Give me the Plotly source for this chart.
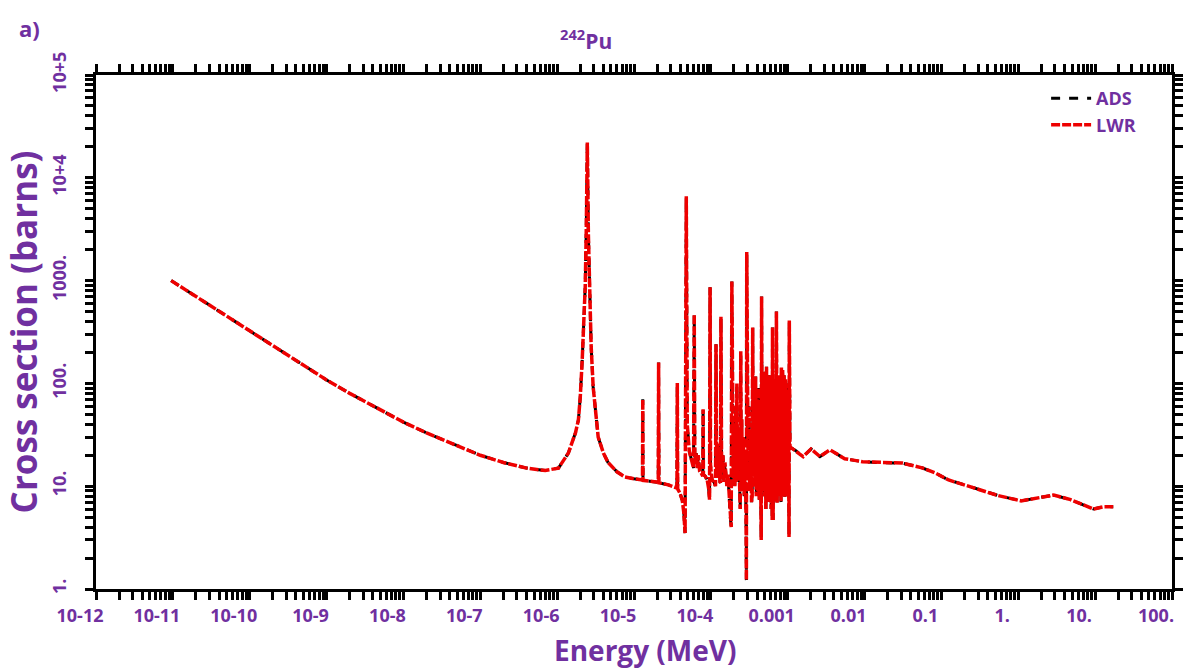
import plotly.graph_objects as go

PURPLE = "#7030A0"

# ---------------- data ----------------
# thermal (1/v) region
thermal_E = [9.5e-12, 2e-11, 5e-11, 1e-10, 2e-10, 5e-10, 1e-9, 2e-9, 5e-9, 1e-8,
             2e-8, 5e-8, 1e-7, 2e-7, 4e-7, 7e-7, 1.04e-6]
thermal_xs = [1000, 700, 450, 325, 232, 150, 108, 80, 55, 42,
              33, 25, 20, 17, 15, 14.2, 15]

# first large resonance
res1_E = [1.40e-6, 1.73e-6, 1.89e-6, 2.0e-6, 2.12e-6, 2.19e-6, 2.25e-6, 2.32e-6, 2.39e-6,
          2.47e-6, 2.55e-6, 2.62e-6, 2.77e-6, 2.94e-6, 3.42e-6, 4.0e-6, 4.6e-6, 6.0e-6,
          7.6e-6, 1.0e-5, 1.29e-5]
res1_xs = [21, 33, 44, 74, 170, 310, 420, 880, 2950,
           22000, 2800, 960, 230, 93, 30, 21, 17, 13.8,
           12.3, 11.8, 11.5]

# resolved resonance forest
forest_E = [1.30e-5, 1.31e-5, 1.6e-5, 2.07e-5, 2.09e-5, 2.11e-5, 2.8e-5, 3.4e-5, 3.62e-5,
            3.66e-5, 3.70e-5, 3.95e-5, 4.25e-5, 4.45e-5, 4.62e-5, 4.79e-5, 4.86e-5, 4.93e-5,
            5.24e-5, 5.73e-5, 5.95e-5, 6.08e-5, 6.18e-5, 6.45e-5, 6.64e-5, 6.84e-5, 7.15e-5,
            7.47e-5, 7.85e-5, 7.93e-5, 8.0e-5, 8.45e-5, 8.97e-5, 9.36e-5, 9.62e-5, 9.77e-5,
            9.9e-5, 1.036e-4, 1.10e-4, 1.15e-4, 1.167e-4, 1.19e-4, 1.22e-4, 1.25e-4, 1.276e-4,
            1.315e-4, 1.335e-4, 1.353e-4, 1.38e-4, 1.436e-4, 1.48e-4, 1.524e-4, 1.617e-4, 1.67e-4,
            1.717e-4, 1.79e-4, 1.84e-4, 1.875e-4, 1.91e-4, 1.96e-4, 1.99e-4, 2.05e-4, 2.11e-4,
            2.15e-4, 2.18e-4, 2.22e-4, 2.27e-4, 2.34e-4, 2.41e-4, 2.45e-4, 2.48e-4, 2.52e-4,
            2.58e-4, 2.64e-4, 2.72e-4, 2.80e-4, 2.87e-4, 2.90e-4, 2.93e-4, 2.97e-4, 3.06e-4,
            3.13e-4, 3.20e-4, 3.30e-4, 3.38e-4, 3.45e-4, 3.50e-4, 3.55e-4, 3.66e-4, 3.74e-4,
            3.82e-4, 3.90e-4, 4.00e-4, 4.09e-4, 4.18e-4, 4.27e-4, 4.37e-4, 4.46e-4, 4.52e-4,
            4.57e-4, 4.64e-4, 4.71e-4, 4.78e-4, 4.89e-4, 4.99e-4, 5.10e-4, 5.20e-4, 5.30e-4,
            5.39e-4, 5.51e-4, 5.62e-4, 5.74e-4, 5.86e-4, 5.97e-4, 6.09e-4, 6.21e-4, 6.28e-4,
            6.34e-4, 6.45e-4, 6.58e-4, 6.72e-4, 6.86e-4, 7.00e-4, 7.13e-4, 7.27e-4, 7.41e-4,
            7.57e-4, 7.72e-4, 7.87e-4, 8.07e-4, 8.17e-4, 8.28e-4, 8.42e-4, 8.59e-4, 8.78e-4,
            8.96e-4, 9.14e-4, 9.34e-4, 9.53e-4, 9.74e-4, 9.94e-4, 1.019e-3, 1.04e-3, 1.049e-3,
            1.07e-3]
forest_xs = [70, 11.4, 11.2, 10.9, 160, 10.8, 10.3, 9.9, 9.6,
             101, 9.4, 8.6, 7.3, 5.5, 3.5, 6600, 80, 40,
             22, 17, 15, 470, 18, 21, 15, 20, 14,
             13.5, 12.5, 56, 13, 12.5, 11.5, 9.5, 7.4, 860,
             16, 11.5, 11, 10, 240, 12, 26, 12, 24,
             11, 10.8, 445, 14, 20, 11, 17, 10, 13,
             8.2, 5, 4.0, 980, 30, 12, 40, 10, 60,
             11, 100, 12, 35, 9, 6, 205, 10, 45,
             9, 30, 8, 20, 5, 1.22, 1900, 40, 12,
             60, 9, 35, 7, 8, 350, 15, 80, 10,
             117, 8, 70, 9, 90, 7.4, 60, 6, 3.0,
             700, 20, 110, 9, 130, 8, 100, 6, 145,
             9, 90, 7, 120, 8, 80, 6, 100, 4.7,
             350, 4.7, 90, 8, 110, 7, 500, 6.9, 100,
             8, 120, 9, 90, 7, 143, 8, 135, 8,
             120, 7.9, 110, 8, 100, 9, 80, 3.2, 410,
             25]

# unresolved / fast region
fast_E = [1.081e-3, 1.29e-3, 1.59e-3, 2.01e-3, 2.63e-3, 3.54e-3, 5.52e-3, 9.4e-3, 1.71e-2,
          3.09e-2, 5.59e-2, 8.22e-2, 0.124, 0.269, 0.549, 1.087, 1.80, 2.89, 4.79, 9.48,
          12.8, 17.2]
fast_xs = [24, 22, 19.4, 23, 19.4, 22.6, 18.5, 17.3, 16.9,
           16.8, 15.1, 13.5, 11.5, 9.6, 8.1, 7.2, 7.7, 8.2, 7.4, 6.0,
           6.3, 6.3]

energy = thermal_E + res1_E + forest_E + fast_E
ads_xs = thermal_xs + res1_xs + forest_xs + fast_xs
lwr_xs = list(ads_xs)

# axis ticks
x_decades = [1e-12, 1e-11, 1e-10, 1e-9, 1e-8, 1e-7, 1e-6, 1e-5, 1e-4, 1e-3, 1e-2, 1e-1, 1, 10, 100]
x_labels = ["10-12", "10-11", "10-10", "10-9", "10-8", "10-7", "10-6", "10-5", "10-4",
            "0.001", "0.01", "0.1", "1.", "10.", "100."]
y_decades = [1, 10, 100, 1000, 1e4, 1e5]
y_labels = ["1.", "10.", "100.", "1000.", "10+4", "10+5"]


def with_minor(decades, labels):
    vals, texts = [], []
    for i, d in enumerate(decades):
        vals.append(d)
        texts.append(labels[i])
        if i < len(decades) - 1:
            for m in range(2, 10):
                vals.append(d * m)
                texts.append("")
    return vals, texts


xv, xt = with_minor(x_decades, x_labels)
yv, yt = with_minor(y_decades, y_labels)

fig = go.Figure()
fig.add_trace(go.Scatter(x=energy, y=ads_xs, mode="lines", name="ADS",
                         line=dict(color="black", width=3, dash="dash")))
fig.add_trace(go.Scatter(x=energy, y=lwr_xs, mode="lines", name="LWR",
                         line=dict(color="#ee0000", width=3.5, dash="9px,2px")))

axis_common = dict(type="log", showgrid=False, zeroline=False, showline=True,
                   linecolor="black", linewidth=3, mirror="allticks",
                   ticks="outside", ticklen=8, tickwidth=2.5, tickcolor="black")

fig.update_xaxes(range=[-12, 2], tickvals=xv, ticktext=xt, ticklabelshift=-16,
                 tickfont=dict(family="Open Sans", size=18, color=PURPLE, weight="bold"),
                 **axis_common)
fig.update_yaxes(range=[0, 5], tickvals=yv, ticktext=yt, tickangle=-90, ticklabelstandoff=12,
                 tickfont=dict(family="Open Sans", size=18, color=PURPLE, weight="bold"),
                 title=dict(text="Cross section (barns)", standoff=2,
                            font=dict(family="Open Sans", size=35, color=PURPLE, weight="bold")),
                 **axis_common)

fig.add_annotation(text="Energy (MeV)", xref="paper", yref="paper", x=0.51, y=-0.118,
                   xanchor="center", yanchor="middle", showarrow=False,
                   font=dict(family="Open Sans", size=28, color=PURPLE, weight="bold"))
fig.add_annotation(text="<sup>242</sup>Pu", xref="paper", yref="paper", x=0.455, y=1.07,
                   xanchor="center", yanchor="middle",
                   showarrow=False, font=dict(family="Open Sans", size=21, color=PURPLE, weight="bold"))
fig.add_annotation(text="a)", xref="paper", yref="paper", x=-0.062, y=1.092,
                   xanchor="center", yanchor="middle",
                   showarrow=False, font=dict(family="Open Sans", size=22, color=PURPLE, weight="bold"))

fig.update_layout(
    width=1195, height=671,
    margin=dict(l=96, r=13, t=75, b=82),
    plot_bgcolor="white", paper_bgcolor="white",
    showlegend=True,
    legend=dict(x=0.883, y=0.99, xanchor="left", yanchor="top", bgcolor="rgba(0,0,0,0)",
                font=dict(family="Open Sans", size=18, color=PURPLE, weight="bold"),
                tracegroupgap=0, itemwidth=40),
)

fig.write_html("out.html")
